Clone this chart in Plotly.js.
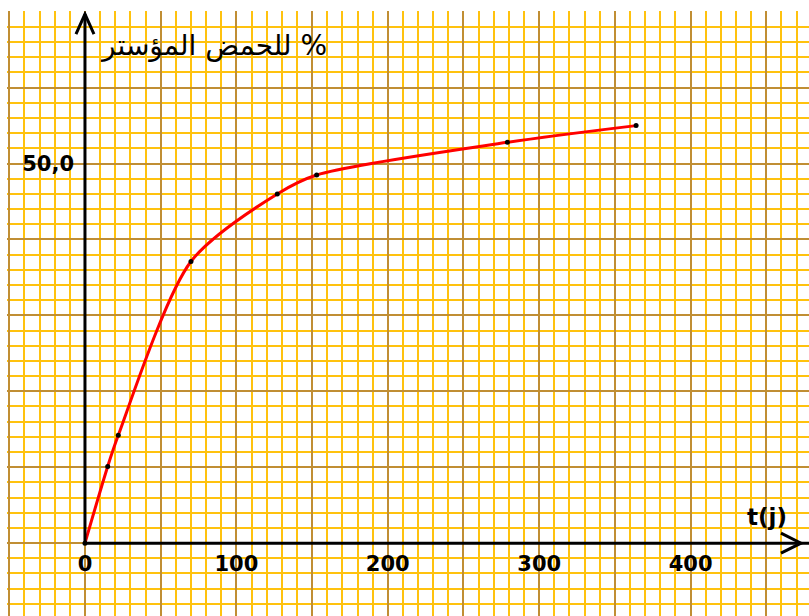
<!DOCTYPE html>
<html>
<head>
<meta charset="utf-8">
<script src="https://cdn.plot.ly/plotly-3.0.1.min.js"></script>
<style>html,body{margin:0;padding:0;background:#fff;}#chart{width:809px;height:616px;}</style>
</head>
<body>
<div id="chart"></div>
<script>
// Data
const days = [0, 15, 22, 70, 127, 153, 279, 364];
const esterPct = [0, 10.1, 14.2, 37.1, 46.0, 48.5, 52.8, 55.0];

// Axis tick labels
const xGridVals = [-50, 0, 50, 100, 150, 200, 250, 300, 350, 400, 450];
const xTickText = ['', '0', '', '100', '', '200', '', '300', '', '400', ''];
const yGridVals = [0, 10, 20, 30, 40, 50, 60, 70];
const yTickText = ['', '', '', '', '', '50,0', '', ''];

const yLabel = 'للحمض المؤستر %';
const xLabel = 't(j)';

const XR = [-51.5, 478.2];
const YR = [-9.6, 70.1];
const minorCol = '#FFC20E';
const majorCol = '#C08E34';
const tickFont = {family: 'DejaVu Sans', size: 21, color: '#000', weight: 'bold'};

const trace = {
  x: days, y: esterPct, type: 'scatter', mode: 'lines+markers',
  line: {color: '#FF0000', width: 3, shape: 'spline', smoothing: 0.8},
  marker: {color: '#000', size: 5},
  hoverinfo: 'x+y', cliponaxis: false
};

const layout = {
  width: 809, height: 616,
  margin: {l: 7, r: 0, t: 11, b: 0, pad: 0},
  paper_bgcolor: '#fff', plot_bgcolor: '#fff',
  showlegend: false,
  xaxis: {
    range: XR, tickmode: 'array', tickvals: xGridVals, ticktext: xTickText,
    showgrid: true, gridcolor: majorCol, gridwidth: 2,
    minor: {tickmode: 'linear', tick0: 0, dtick: 10, showgrid: true, gridcolor: minorCol, gridwidth: 2, ticks: ''},
    zeroline: false, showline: false, ticks: '',
    anchor: 'free', position: 0.12,
    tickfont: tickFont, ticklabelstandoff: 6
  },
  yaxis: {
    range: YR, tickmode: 'array', tickvals: yGridVals, ticktext: yTickText,
    showgrid: true, gridcolor: majorCol, gridwidth: 2,
    minor: {tickmode: 'linear', tick0: 0, dtick: 2, showgrid: true, gridcolor: minorCol, gridwidth: 2, ticks: ''},
    zeroline: false, showline: false, ticks: '',
    anchor: 'free', position: 0.0973,
    tickfont: tickFont, ticklabelstandoff: 11
  },
  shapes: [
    {type: 'line', xref: 'x', yref: 'y', x0: 6.6, x1: 163.8, y0: 66, y1: 66, line: {color: '#fff', width: 3}, layer: 'below'},
    {type: 'line', xref: 'x', yref: 'y', x0: 0, x1: XR[1], y0: 0, y1: 0, line: {color: '#000', width: 3}},
    {type: 'line', xref: 'x', yref: 'y', x0: 0, x1: 0, y0: 0, y1: 69.7, line: {color: '#000', width: 3}},
    {type: 'path', xref: 'x', yref: 'y', xsizemode: 'pixel', ysizemode: 'pixel', xanchor: 0, yanchor: 69.7,
     path: 'M -9,-20 L 0,0 L 9,-20', line: {color: '#000', width: 3}},
    {type: 'path', xref: 'x', yref: 'y', xsizemode: 'pixel', ysizemode: 'pixel', xanchor: 472.9, yanchor: 0,
     path: 'M -20,10 L 0,0 L -20,-10', line: {color: '#000', width: 3}}
  ],
  annotations: [
    {xref: 'x', yref: 'y', x: 85.2, y: 65.6, text: yLabel, showarrow: false,
     font: {family: 'DejaVu Sans', size: 28, color: '#000'}, xanchor: 'center', yanchor: 'middle'},
    {xref: 'x', yref: 'y', x: 450.5, y: 3.44, text: xLabel, showarrow: false,
     font: {family: 'DejaVu Sans', size: 23, color: '#000', weight: 'bold'}, xanchor: 'center', yanchor: 'middle'}
  ]
};

Plotly.newPlot('chart', [trace], layout, {displayModeBar: false, staticPlot: true});
</script>
</body>
</html>
